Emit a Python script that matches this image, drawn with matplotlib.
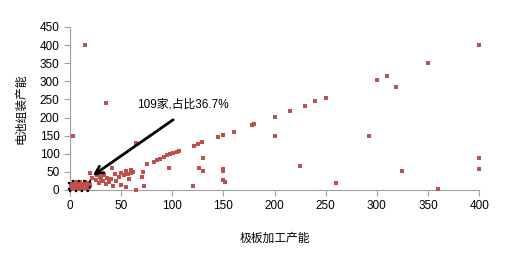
import matplotlib.pyplot as plt
from matplotlib.patches import Rectangle

plt.rcParams['font.family'] = ['Liberation Sans', 'Noto Sans CJK SC', 'DejaVu Sans']

# outliers and the rising band
x_main = [15, 35, 3, 65, 400, 350, 300, 310, 319, 292, 400, 400, 325, 260, 360,
          225, 200, 250, 240, 230, 215, 200, 178, 180, 160, 150, 145, 129, 125,
          121, 130, 126, 130, 150, 150, 150, 152, 120, 97,
          75, 82, 85, 88, 92, 95, 98, 101, 105, 107, 71, 70, 72]
y_main = [400, 240, 148, 130, 400, 350, 304, 314, 284, 149, 89, 59, 52, 18, 2,
          66, 150, 255, 245, 233, 219, 202, 180, 183, 161, 151, 146, 133, 126,
          122, 88, 60, 52, 59, 51, 28, 23, 12, 60,
          72, 77, 84, 86, 90, 96, 98, 101, 105, 108, 50, 37, 12]

# small plants between 20 and 65
x_mid = [20, 29, 36, 41, 44, 50, 55, 60, 60, 50, 55, 65, 25, 28, 32, 35, 38, 40,
         30, 45, 42, 48, 53, 57, 62, 26, 22, 33, 58]
y_mid = [48, 37, 33, 60, 44, 48, 51, 55, 46, 14, 9, 0, 28, 20, 25, 15, 22, 30,
         30, 25, 12, 35, 40, 45, 50, 40, 32, 42, 30]

# cluster inside the dotted box
x_box = [1, 3, 5, 7, 9, 11, 13, 15, 17, 19, 2, 4, 6, 8, 10, 12, 14, 16, 18, 20,
         1, 5, 10, 15, 18]
y_box = [2, 5, 10, 3, 12, 6, 15, 8, 12, 20, 15, 20, 8, 18, 2, 10, 4, 18, 6, 14,
         10, 22, 22, 22, 2]

xs = x_main + x_mid + x_box
ys = y_main + y_mid + y_box

fig = plt.figure(figsize=(5.22, 2.57), dpi=100)
ax = fig.add_axes([0.134, 0.261, 0.784, 0.634])

ax.scatter(xs, ys, marker='s', s=11, color='#C0504D', linewidths=0, clip_on=False, zorder=3)

ax.add_patch(Rectangle((-1, -2), 21, 27, fill=False, edgecolor='black',
                       linestyle=':', linewidth=1.6, clip_on=False, zorder=4))

ax.annotate('', xy=(20, 35), xytext=(103, 198),
            arrowprops=dict(arrowstyle='->', color='black', lw=2,
                            mutation_scale=14))
ax.text(66, 235, '109家,占比36.7%', fontsize=8.5, ha='left', va='center')

ax.set_xlim(0, 400)
ax.set_ylim(0, 450)
ax.set_xticks(range(0, 401, 50))
ax.set_yticks(range(0, 451, 50))

for side in ['top', 'right']:
    ax.spines[side].set_visible(False)
for side in ['left', 'bottom']:
    ax.spines[side].set_color('#A0A0A0')
ax.tick_params(colors='#A0A0A0', labelcolor='black', labelsize=8.5, length=4)

ax.set_xlabel('极板加工产能', fontsize=8.5, labelpad=15)
ax.set_ylabel('电池组装产能', fontsize=8.5, labelpad=9)

fig.savefig('out.png', dpi=100)
